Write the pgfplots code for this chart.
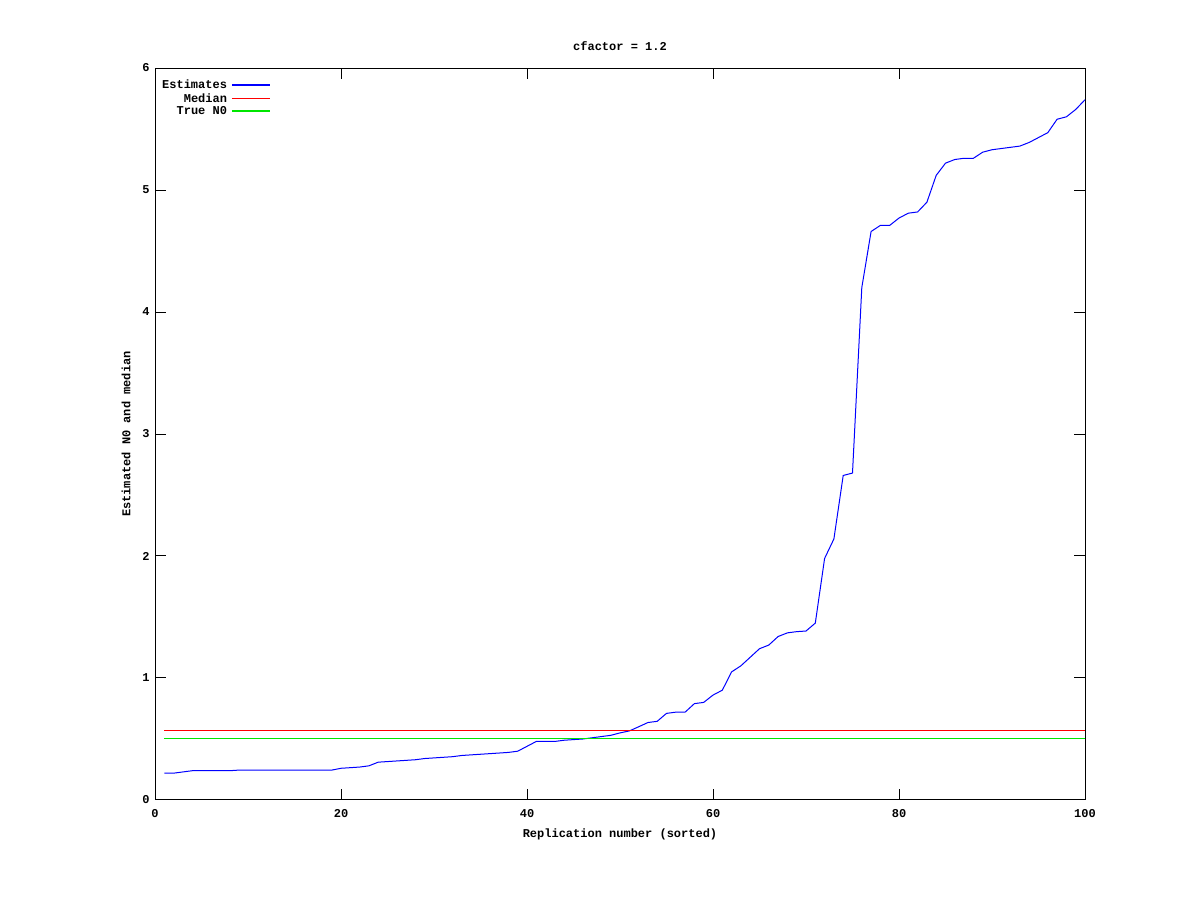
\documentclass[border=0pt]{standalone}
\usepackage{pgfplots}
\pgfplotsset{compat=1.18}
\usepackage{fontspec}
\setmainfont{Liberation Mono}
\definecolor{gpblue}{RGB}{0,0,255}
\definecolor{gpred}{RGB}{255,0,0}
\definecolor{gpgreen}{RGB}{0,230,0}
\begin{document}
\begin{tikzpicture}[x=1pt,y=1pt]
\path (0,0) rectangle (1200,900);
\begin{axis}[
  at={(155pt,100pt)}, anchor=south west,
  scale only axis, width=930pt, height=732pt,
  xmin=0, xmax=100, ymin=0, ymax=6,
  xtick={0,20,40,60,80,100}, ytick={0,1,2,3,4,5,6},
  major tick length=11pt,
  tick style={black, line width=1pt},
  axis line style={line width=1pt},
  tick align=inside,
  /pgf/number format/assume math mode=true,
  every tick label/.append style={font=\fontsize{12}{14}\selectfont\bfseries},
  xticklabel style={yshift=-6pt},
  yticklabel style={xshift=-2pt},
  title={cfactor = 1.2},
  title style={font=\fontsize{12}{14}\selectfont\bfseries, at={(0.5,1)}, anchor=south, yshift=8pt},
  xlabel={Replication number (sorted)},
  ylabel={Estimated N0 and median},
  label style={font=\fontsize{12}{14}\selectfont\bfseries},
  xlabel style={yshift=-4pt},
  ylabel style={yshift=5pt},
  legend style={at={(0,1)}, anchor=north west, draw=none, fill=none,
    font=\fontsize{12}{14}\selectfont\bfseries, xshift=1pt, yshift=-8pt,
    row sep=-1pt, inner sep=2pt, nodes={inner xsep=4pt}},
  legend cell align=right,
  legend plot pos=right,
  legend image code/.code={\draw[#1] (0pt,0pt) -- (38pt,0pt);},
]
\addlegendimage{draw=gpblue, line width=1.8pt}
\addlegendentry{Estimates}
\addlegendimage{draw=gpred, line width=1.8pt}
\addlegendentry{Median}
\addlegendimage{draw=gpgreen, line width=1.8pt}
\addlegendentry{True N0}
\addplot[gpblue, line width=1pt, forget plot] coordinates {
(1,0.22)(2,0.22)(3,0.23)(4,0.24)(5,0.24)(6,0.24)(7,0.24)(8,0.24)(9,0.245)(10,0.245)
(11,0.245)(12,0.245)(13,0.245)(14,0.245)(15,0.245)(16,0.245)(17,0.245)(18,0.245)(19,0.245)(20,0.26)
(21,0.265)(22,0.27)(23,0.28)(24,0.31)(25,0.315)(26,0.32)(27,0.325)(28,0.33)(29,0.34)(30,0.345)
(31,0.35)(32,0.355)(33,0.365)(34,0.37)(35,0.375)(36,0.38)(37,0.385)(38,0.39)(39,0.40)(40,0.44)
(41,0.48)(42,0.48)(43,0.48)(44,0.49)(45,0.495)(46,0.50)(47,0.51)(48,0.52)(49,0.53)(50,0.55)
(51,0.566)(52,0.60)(53,0.635)(54,0.645)(55,0.71)(56,0.72)(57,0.72)(58,0.79)(59,0.80)(60,0.86)
(61,0.90)(62,1.05)(63,1.10)(64,1.17)(65,1.24)(66,1.27)(67,1.34)(68,1.37)(69,1.38)(70,1.385)
(71,1.45)(72,1.98)(73,2.14)(74,2.66)(75,2.68)(76,4.2)(77,4.66)(78,4.71)(79,4.71)(80,4.77)
(81,4.81)(82,4.82)(83,4.90)(84,5.12)(85,5.22)(86,5.25)(87,5.26)(88,5.26)(89,5.31)(90,5.33)
(91,5.34)(92,5.35)(93,5.36)(94,5.39)(95,5.43)(96,5.47)(97,5.58)(98,5.60)(99,5.66)(100,5.74)
};
\addplot[gpred, line width=1pt, forget plot] coordinates {(1,0.566)(100,0.566)};
\addplot[gpgreen, line width=1pt, forget plot] coordinates {(1,0.5)(100,0.5)};
\end{axis}
\end{tikzpicture}
\end{document}
